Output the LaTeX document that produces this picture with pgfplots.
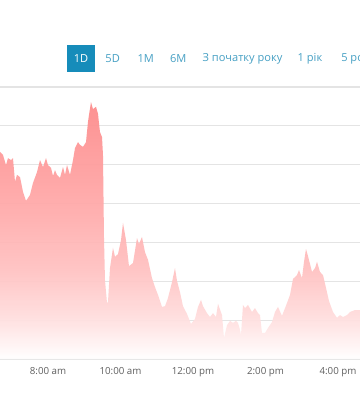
\documentclass[border=0pt]{standalone}
\usepackage{pgfplots}
\pgfplotsset{compat=1.18}
\usepackage{fontspec}
\setmainfont{Open Sans}
\definecolor{btnblue}{RGB}{22,140,186}
\definecolor{linkblue}{RGB}{70,160,196}
\definecolor{gridgray}{RGB}{228,228,228}
\definecolor{ticktext}{RGB}{95,95,95}
\pgfdeclareverticalshading{pinkfade}{100bp}{rgb(0bp)=(1,1,1); rgb(25bp)=(1,1,1); rgb(28bp)=(1,0.95,0.95); rgb(33bp)=(1,0.87,0.87); rgb(42bp)=(1,0.76,0.76); rgb(55bp)=(1,0.66,0.66); rgb(75bp)=(0.99,0.54,0.54); rgb(100bp)=(0.99,0.54,0.54)}
\begin{document}
\begin{tikzpicture}
\path[use as bounding box] (0pt,0pt) rectangle (270pt,300pt);
\fill[white] (0pt,0pt) rectangle (270pt,300pt);
% range buttons
\fill[btnblue] (50.25pt,246pt) rectangle (71.25pt,266.25pt);
\begin{scope}[every node/.style={inner sep=0pt,font=\fontsize{8.3pt}{10pt}\selectfont}]
\node[white] at (60.75pt,256.1pt) {1D};
\node[linkblue] at (84.5pt,256.1pt) {5D};
\node[linkblue] at (109.3pt,256.1pt) {1M};
\node[linkblue] at (133.7pt,256.1pt) {6M};
\node[linkblue] at (181.9pt,256.1pt) {З початку року};
\node[linkblue] at (232.5pt,256.1pt) {1 рік};
\node[linkblue,anchor=west] at (255.75pt,256.1pt) {5 років};
\end{scope}
\begin{axis}[
  at={(0pt,30.75pt)}, anchor=south west,
  scale only axis, width=270pt, height=204pt,
  xmin=6.676, xmax=16.607, ymin=0, ymax=7,
  axis line style={draw=none},
  ytick={0,...,7}, yticklabels={},
  ymajorgrids, grid style={gridgray, line width=0.8pt},
  major tick length=0pt,
  xtick={8,10,12,14,16},
  xticklabels={8:00 am,10:00 am,12:00 pm,2:00 pm,4:00 pm},
  xticklabel style={font=\fontsize{7.3pt}{9pt}\selectfont, text=ticktext, yshift=-2.5pt},
  clip=true,
]
\addplot[draw=none, shade, shading=pinkfade, fill opacity=0.93] coordinates {
(6.676,5.33) (6.759,5.25) (6.841,4.99) (6.897,5.17) (6.979,5.12) (7.034,5.17)
(7.090,4.56) (7.145,4.74) (7.228,4.68) (7.283,4.43) (7.310,4.30) (7.393,4.07)
(7.503,4.22) (7.586,4.53) (7.697,4.81) (7.779,5.12) (7.862,4.94) (7.945,5.17)
(8.000,4.99) (8.083,4.92) (8.138,4.71) (8.193,4.86) (8.248,4.74) (8.331,4.66)
(8.414,4.94) (8.469,4.74) (8.524,4.99) (8.607,4.74) (8.690,5.12) (8.745,5.43)
(8.828,5.58) (8.883,5.51) (8.966,5.46) (9.048,5.58) (9.103,6.10) (9.131,6.28)
(9.186,6.61) (9.241,6.43) (9.324,6.49) (9.379,6.31) (9.434,5.84) (9.490,5.71)
(9.517,5.25) (9.545,3.11) (9.572,2.03) (9.628,1.44) (9.655,1.47) (9.710,2.34)
(9.793,2.86) (9.848,2.63) (9.931,2.70) (10.014,3.06) (10.069,3.50) (10.152,3.06)
(10.234,2.39) (10.345,2.47) (10.455,3.11) (10.510,2.96) (10.593,3.14) (10.676,2.75)
(10.759,2.55) (10.869,2.08) (10.952,1.85) (11.034,1.65) (11.145,1.34) (11.228,1.36)
(11.310,1.57) (11.421,1.98) (11.503,2.34) (11.559,2.01) (11.641,1.72) (11.724,1.36)
(11.834,1.16) (11.945,0.90) (12.055,1.03) (12.138,1.34) (12.221,1.52) (12.276,1.36)
(12.386,1.18) (12.469,1.08) (12.552,1.18) (12.634,1.08) (12.690,1.42) (12.800,1.13)
(12.855,0.54) (12.938,0.87) (13.021,0.98) (13.103,0.93) (13.186,0.98) (13.241,0.93)
(13.297,0.75) (13.324,0.62) (13.379,1.39) (13.434,1.31) (13.517,1.39) (13.628,1.21)
(13.710,1.31) (13.793,1.18) (13.848,1.13) (13.903,0.67) (13.986,0.67) (14.069,0.80)
(14.179,0.95) (14.262,1.21) (14.345,1.34) (14.455,1.11) (14.593,1.44) (14.676,1.65)
(14.759,2.06) (14.869,2.16) (14.924,2.29) (15.007,2.08) (15.062,2.50) (15.117,2.83)
(15.172,2.65) (15.283,2.24) (15.366,2.34) (15.421,2.50) (15.503,2.24) (15.586,2.16)
(15.669,1.83) (15.752,1.49) (15.862,1.21) (15.972,1.06) (16.055,1.13) (16.138,1.08)
(16.248,1.13) (16.331,1.21) (16.469,1.26) (16.607,1.26)
} \closedcycle;
\end{axis}
\end{tikzpicture}
\end{document}
